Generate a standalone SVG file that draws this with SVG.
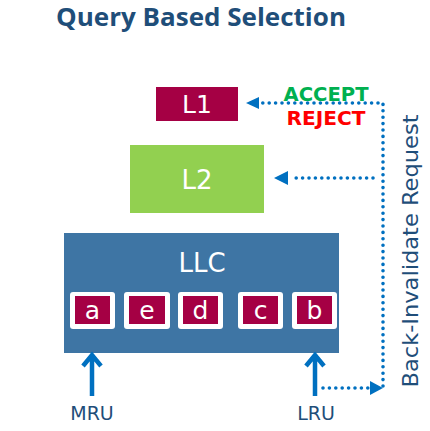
<svg xmlns="http://www.w3.org/2000/svg" width="430" height="431" viewBox="0 0 430 431">
<defs>
<style>
.t{font-family:"DejaVu Sans","Liberation Sans",sans-serif;fill:#fff;text-anchor:middle}
.lbl{font-family:"DejaVu Sans","Liberation Sans",sans-serif;fill:#1F4E79;text-anchor:middle}
.dot{fill:none;stroke:#0070C0;stroke-width:3.6;stroke-linecap:round;stroke-dasharray:0 6.4}
.cell{fill:#fff}
.cin{fill:#A50044}
.up{fill:none;stroke:#0070C0;stroke-width:4.5}
.resp{font-family:"DejaVu Sans","Liberation Sans",sans-serif;font-weight:bold;font-size:19px;text-anchor:middle}
</style>
</defs>
<rect width="430" height="431" fill="#fff"/>
<text x="201" y="26" font-family="'Open Sans','DejaVu Sans',sans-serif" font-weight="bold" font-size="25" fill="#1F4E79" text-anchor="middle" textLength="290" lengthAdjust="spacingAndGlyphs">Query Based Selection</text>

<g id="L1">
<rect x="156" y="87" width="82" height="34" fill="#A50044"/>
<text class="t" x="197" y="113" font-size="25">L1</text>
</g>
<g id="L2">
<rect x="130" y="145" width="134" height="68" fill="#92D050"/>
<text class="t" x="197" y="189" font-size="26">L2</text>
</g>
<g id="LLC">
<rect x="64" y="233" width="275" height="120" fill="#3E75A4"/>
<text class="t" x="202" y="272" font-size="26">LLC</text>
<g id="cell-a"><rect class="cell" x="70" y="292" width="45" height="37" rx="3"/><rect class="cin" x="75" y="296" width="35" height="28"/><text class="t" x="92.5" y="319" font-size="25">a</text></g>
<g id="cell-e"><rect class="cell" x="124" y="292" width="46" height="37" rx="3"/><rect class="cin" x="129" y="296" width="36" height="28"/><text class="t" x="147" y="319" font-size="25">e</text></g>
<g id="cell-d"><rect class="cell" x="178" y="292" width="45" height="37" rx="3"/><rect class="cin" x="183" y="296" width="35" height="28"/><text class="t" x="200.5" y="319" font-size="25">d</text></g>
<g id="cell-c"><rect class="cell" x="238" y="292" width="45" height="37" rx="3"/><rect class="cin" x="243" y="296" width="35" height="28"/><text class="t" x="260.5" y="319" font-size="25">c</text></g>
<g id="cell-b"><rect class="cell" x="292" y="292" width="45" height="37" rx="3"/><rect class="cin" x="297" y="296" width="35" height="28"/><text class="t" x="314.5" y="319" font-size="25">b</text></g>
</g>

<g id="connectors">
<path class="up" d="M92,396 V356 M83,366 L92,355 L101,366"/>
<path class="up" d="M315,396 V356 M306,366 L315,355 L324,366"/>
<path class="dot" d="M323,388 H370"/>
<path d="M370,381 L383,388 L370,395 Z" fill="#0070C0"/>
<path class="dot" d="M383,386 V103 H262"/>
<path d="M259,97 L246,103 L259,109 Z" fill="#0070C0"/>
<path class="dot" d="M373,178 H290"/>
<path d="M288,171 L274,178 L288,185 Z" fill="#0070C0"/>
</g>

<g id="labels">
<text class="resp" x="326" y="101" fill="#00B050" textLength="85" lengthAdjust="spacingAndGlyphs">ACCEPT</text>
<text class="resp" x="326" y="125" fill="#FF0000" textLength="79" lengthAdjust="spacingAndGlyphs">REJECT</text>
<text class="lbl" x="92" y="420" font-size="19">MRU</text>
<text class="lbl" x="316" y="420" font-size="19">LRU</text>
<text class="lbl" transform="translate(418,251) rotate(-90)" font-size="21" textLength="273" lengthAdjust="spacingAndGlyphs">Back-Invalidate Request</text>
</g>
</svg>
